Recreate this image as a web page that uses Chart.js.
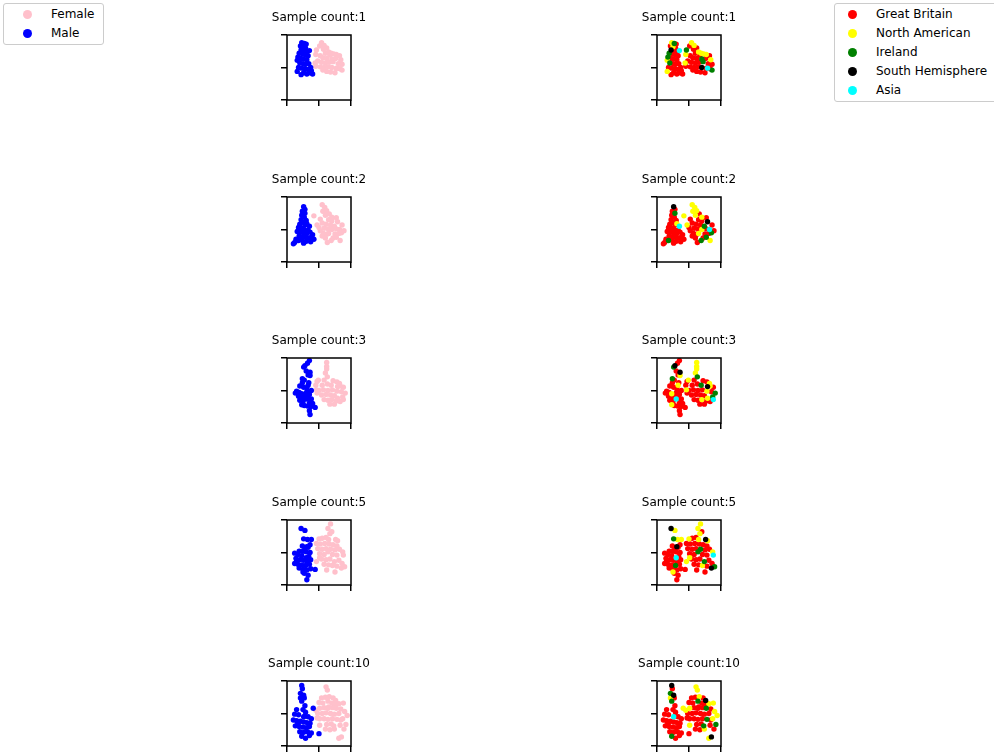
<!DOCTYPE html>
<html><head><meta charset="utf-8">
<script src="https://cdn.jsdelivr.net/npm/chart.js@4"></script>
<style>
html,body{margin:0;padding:0;width:994px;height:756px;overflow:hidden;background:#fff;font-family:"DejaVu Sans",sans-serif;}
canvas.pc{position:absolute;}
.legend{position:absolute;background:rgba(255,255,255,0.8);border:1px solid #cccccc;border-radius:3px;box-sizing:border-box;}
.lg-item{position:absolute;white-space:nowrap;font-size:12px;line-height:14px;color:#000;font-family:"DejaVu Sans",sans-serif;}
.lg-dot{position:absolute;width:9px;height:9px;border-radius:50%;}
</style></head><body>
<script>
const sampleCounts = [1, 2, 3, 5, 10];
const genderLabels = ['Female', 'Male'];
const genderColors = ['#ffc0cb', '#0000ff'];
const regionLabels = ['Great Britain', 'North American', 'Ireland', 'South Hemisphere', 'Asia'];
const regionColors = ['#ff0000', '#ffff00', '#008000', '#000000', '#00ffff'];
const axisTicks = [0, 50, 100];

// each point: [x, y, gender (0 Female, 1 Male), region index]
const panel1 = [
[23,88,1,1],[27,87,1,2],[30,86,1,0],[21,83,1,0],[25,82,1,1],[29,80,1,0],[22,77,1,3],[27,76,1,0],[31,74,1,0],[35,76,1,4],[19,72,1,2],[24,71,1,0],[28,70,1,0],[33,68,1,0],[17,66,1,2],[22,64,1,0],[26,63,1,0],[31,62,1,0],[16,61,1,1],[20,57,1,2],[25,56,1,0],[29,55,1,0],[34,56,1,0],[18,50,1,0],[23,49,1,0],[28,48,1,0],[33,47,1,0],[37,50,1,0],[16,44,1,1],[26,42,1,0],[36,42,1,0],[40,40,1,0],[22,39,1,0],[31,40,1,0],[38,45,1,0],
[54,88,0,1],[58,84,0,1],[51,83,0,0],[46,77,0,2],[57,78,0,0],[62,80,0,0],[65,74,0,1],[69,72,0,1],[60,72,0,0],[45,70,0,1],[52,68,0,0],[67,69,0,0],[73,71,0,1],[77,70,0,1],[82,68,0,0],[56,65,0,0],[62,64,0,0],[70,63,0,2],[76,64,0,0],[84,62,0,1],[48,60,0,0],[54,58,0,0],[60,57,0,0],[66,58,0,0],[72,59,0,2],[80,56,0,0],[86,55,0,0],[44,57,0,1],[45,52,0,0],[52,51,0,0],[58,50,0,0],[64,51,0,0],[70,50,0,3],[77,49,0,0],[79,49,0,4],[83,48,0,0],[86,46,0,2],[62,44,0,0],[68,43,0,0],[75,42,0,0],[56,46,0,0]
];
const panel2 = [
[26,85,1,3],[28,81,1,0],[24,78,1,0],[28,75,1,2],[23,72,1,0],[27,69,1,0],[22,65,1,0],[30,64,1,0],[25,61,1,0],[31,59,1,1],[20,58,1,0],[28,57,1,0],[35,55,1,4],[18,53,1,0],[23,52,1,0],[27,50,1,0],[33,49,1,0],[16,47,1,0],[21,46,1,0],[26,45,1,0],[31,44,1,0],[36,46,1,0],[40,42,1,0],[19,40,1,0],[24,39,1,0],[29,38,1,0],[34,37,1,0],[38,38,1,0],[42,35,1,0],[14,35,1,0],[18,33,1,2],[23,34,1,0],[30,32,1,0],[12,30,1,0],[10,28,1,0],[37,31,1,0],[26,29,1,0],
[55,88,0,1],[59,84,0,1],[62,79,0,1],[56,78,0,1],[66,74,0,0],[42,71,0,1],[60,72,0,1],[70,69,0,1],[77,68,0,0],[52,66,0,0],[65,65,0,0],[70,63,0,0],[79,62,0,3],[47,57,0,1],[55,60,0,0],[61,58,0,0],[68,57,0,0],[74,55,0,2],[86,57,0,0],[58,52,0,0],[64,51,0,0],[70,50,0,1],[77,51,0,0],[82,50,0,4],[89,48,0,0],[85,45,0,2],[52,48,0,0],[57,44,0,0],[63,43,0,0],[65,44,0,1],[75,43,0,0],[81,44,0,0],[60,37,0,0],[69,33,0,2],[72,37,0,0],[77,38,0,2],[83,33,0,1],[63,30,0,0],[55,40,0,0],[50,53,0,0]
];
const panel3 = [
[35,96,1,0],[32,92,1,0],[28,88,1,3],[26,86,1,2],[30,80,1,0],[36,78,1,3],[36,73,1,1],[33,74,1,0],[24,68,1,2],[27,66,1,0],[33,58,1,1],[34,62,1,0],[24,62,1,0],[20,57,1,0],[26,55,1,0],[31,54,1,0],[15,49,1,0],[13,46,1,0],[19,47,1,0],[23,45,1,1],[29,45,1,0],[35,44,1,0],[18,41,1,0],[23,40,1,0],[28,39,1,0],[33,38,1,0],[38,37,1,0],[20,35,1,0],[25,33,1,0],[30,37,1,4],[35,31,1,0],[40,30,1,0],[27,27,1,0],[32,26,1,0],[37,25,1,0],[44,24,1,0],[35,19,1,0],[36,13,1,0],[23,28,1,1],[31,48,1,0],[38,50,1,0],
[62,93,0,1],[62,87,0,1],[62,83,0,1],[60,77,0,1],[63,71,0,2],[49,66,0,1],[47,64,0,0],[58,66,0,0],[72,65,0,0],[78,63,0,0],[82,61,0,1],[45,58,0,0],[55,58,0,0],[63,60,0,0],[69,58,0,2],[79,56,0,3],[83,57,0,1],[88,55,0,0],[50,50,0,0],[57,51,0,0],[64,50,0,0],[71,51,0,0],[78,49,0,1],[85,48,0,0],[91,46,0,2],[54,43,0,0],[61,44,0,0],[68,43,0,0],[74,42,0,0],[79,38,0,1],[87,40,0,2],[88,36,0,4],[58,36,0,0],[64,35,0,0],[70,36,0,1],[77,34,0,0],[83,33,0,0],[67,29,0,0],[74,29,0,0],[47,46,0,0],[46,51,0,1]
];
const panel4 = [
[22,87,1,3],[28,84,1,1],[26,71,1,2],[32,70,1,1],[38,70,1,1],[31,59,1,3],[36,62,1,0],[24,60,1,0],[28,57,1,0],[33,58,1,0],[19,52,1,0],[25,52,1,0],[30,51,1,0],[36,50,1,0],[12,49,1,0],[17,47,1,0],[23,45,1,0],[30,42,1,4],[34,44,1,0],[14,41,1,0],[20,39,1,0],[26,38,1,0],[31,37,1,0],[37,39,1,0],[12,33,1,0],[17,32,1,0],[23,31,1,0],[29,30,1,2],[35,32,1,0],[19,26,1,0],[25,24,1,0],[31,23,1,0],[37,25,1,0],[27,18,1,0],[33,15,1,0],[31,8,1,0],[44,24,1,0],[15,38,1,0],[25,20,1,1],
[68,94,0,1],[64,87,0,1],[67,79,0,1],[70,82,0,0],[50,71,0,1],[55,72,0,0],[61,73,0,0],[65,70,0,1],[76,70,0,3],[79,68,0,1],[46,64,0,0],[52,63,0,0],[59,64,0,0],[66,63,0,0],[72,62,0,0],[78,60,0,0],[48,56,0,0],[55,55,0,0],[61,56,0,0],[68,55,0,2],[75,54,0,0],[82,55,0,0],[87,51,0,1],[51,48,0,0],[58,47,0,0],[64,51,0,2],[71,47,0,0],[78,46,0,0],[88,46,0,4],[54,40,0,0],[61,39,0,0],[67,40,0,0],[74,36,0,2],[81,38,0,0],[58,32,0,0],[65,31,0,0],[71,30,0,1],[78,29,0,0],[85,26,0,3],[90,28,0,2],[62,23,0,0],[75,20,0,0],[51,42,0,1],[46,36,0,1],[86,33,0,0]
];
const panel5 = [
[23,93,1,3],[24,88,1,0],[21,81,1,2],[26,78,1,3],[21,74,1,1],[27,74,1,0],[23,69,1,2],[15,56,1,0],[25,56,1,0],[29,52,1,0],[41,58,1,1],[12,49,1,0],[18,48,1,0],[26,45,1,4],[28,46,1,0],[33,45,1,0],[38,42,1,0],[10,40,1,0],[15,39,1,0],[21,38,1,0],[26,37,1,0],[31,36,1,0],[36,35,1,0],[13,31,1,0],[19,30,1,0],[25,29,1,0],[30,28,1,0],[35,30,1,0],[20,22,1,0],[26,21,1,0],[32,22,1,0],[38,20,1,0],[23,15,1,2],[29,12,1,0],[35,16,1,0],[50,19,1,0],[17,35,1,0],[28,62,1,0],
[61,91,0,1],[63,86,0,1],[54,74,0,0],[60,75,0,0],[66,76,0,1],[72,74,0,0],[76,70,0,3],[50,67,0,0],[56,66,0,0],[64,69,0,2],[70,66,0,0],[75,64,0,0],[81,65,0,1],[88,66,0,1],[51,58,0,1],[58,59,0,0],[64,58,0,0],[71,59,0,0],[77,58,0,2],[84,57,0,0],[90,53,0,1],[48,50,0,0],[55,50,0,0],[61,51,0,0],[68,50,0,0],[74,49,0,0],[81,50,0,0],[87,42,0,1],[94,47,0,1],[51,42,0,0],[58,42,0,0],[64,41,0,0],[71,42,0,0],[78,41,0,2],[84,40,0,0],[92,33,0,2],[51,32,0,1],[62,33,0,0],[69,34,0,0],[73,31,0,2],[83,32,0,0],[60,26,0,0],[67,25,0,0],[74,26,0,1],[81,12,0,1],[85,14,0,3],[47,43,0,0],[89,26,0,0],[65,60,0,0],[45,55,0,1]
];
const panels = [panel1, panel2, panel3, panel4, panel5];

// layout (pixels)
const colBoxLeft = [287, 657];
const rowBoxTop = [35, 197, 358, 520, 681];
const boxW = 64, boxH = 65, side = 55;

const framePlugin = {
  id: 'frame',
  afterDatasetsDraw(chart) {
    const {ctx, chartArea: a} = chart;
    ctx.save();
    ctx.strokeStyle = '#000';
    ctx.lineWidth = 1.5;
    ctx.strokeRect(a.left, a.top, a.right - a.left, a.bottom - a.top);
    ctx.restore();
  }
};

function axis(size) {
  return {
    type: 'linear', min: axisTicks[0], max: axisTicks[axisTicks.length - 1],
    afterBuildTicks: s => { s.ticks = axisTicks.map(v => ({value: v})); },
    ticks: {display: false},
    grid: {drawOnChartArea: false, drawTicks: true, tickLength: 6, color: '#000', lineWidth: 1.5},
    border: {display: false},
    afterFit: s => { if (s.isHorizontal()) s.height = size; else s.width = size; }
  };
}

function makeChart(col, row) {
  const pts = panels[row];
  const cv = document.createElement('canvas');
  cv.className = 'pc';
  const W = boxW + 2 * side, H = 35 + boxH + 15;
  cv.width = W; cv.height = H;
  cv.style.left = (colBoxLeft[col] - side) + 'px';
  cv.style.top = (rowBoxTop[row] - 35) + 'px';
  cv.style.width = W + 'px'; cv.style.height = H + 'px';
  document.body.appendChild(cv);
  const labels = col === 0 ? genderLabels : regionLabels;
  const colors = col === 0 ? genderColors : regionColors;
  const key = col === 0 ? 2 : 3;
  const datasets = labels.map((lab, i) => ({
    label: lab,
    data: pts.filter(p => p[key] === i).map(p => ({x: p[0], y: p[1]})),
    backgroundColor: colors[i],
    borderWidth: 0,
    pointRadius: 2.7,
    pointHoverRadius: 2.7,
    order: -i
  }));
  const yRight = axis(side);
  yRight.position = 'right';
  yRight.grid = {display: false};
  new Chart(cv, {
    type: 'scatter',
    data: {datasets},
    options: {
      responsive: false, animation: false, devicePixelRatio: 1,
      events: [],
      layout: {padding: 0},
      plugins: {
        legend: {display: false},
        tooltip: {enabled: false},
        title: {display: true, text: 'Sample count:' + sampleCounts[row], color: '#000',
          font: {family: "'DejaVu Sans', Verdana, sans-serif", size: 12, weight: 'normal', lineHeight: 1.2},
          padding: {top: 10.8, bottom: 9.8}}
      },
      scales: {x: axis(15), y: axis(side), yR: yRight}
    },
    plugins: [framePlugin]
  });
}

for (let r = 0; r < panels.length; r++) { makeChart(0, r); makeChart(1, r); }

function makeLegend(left, top, width, height, dotX, textX, labels, colors) {
  const box = document.createElement('div');
  box.className = 'legend';
  box.style.left = left + 'px'; box.style.top = top + 'px';
  box.style.width = width + 'px'; box.style.height = height + 'px';
  labels.forEach((lab, i) => {
    const cy = 10 + i * 19;
    const d = document.createElement('div');
    d.className = 'lg-dot';
    d.style.left = (dotX - 4.5) + 'px'; d.style.top = (cy - 4.5) + 'px';
    d.style.background = colors[i];
    box.appendChild(d);
    const t = document.createElement('div');
    t.className = 'lg-item';
    t.style.left = textX + 'px'; t.style.top = (cy - 7) + 'px';
    t.textContent = lab;
    box.appendChild(t);
  });
  document.body.appendChild(box);
}
makeLegend(3, 3, 101, 42, 23, 47, genderLabels, genderColors);
makeLegend(834, 3, 170, 99, 17, 41, regionLabels, regionColors);
</script>
</body></html>
